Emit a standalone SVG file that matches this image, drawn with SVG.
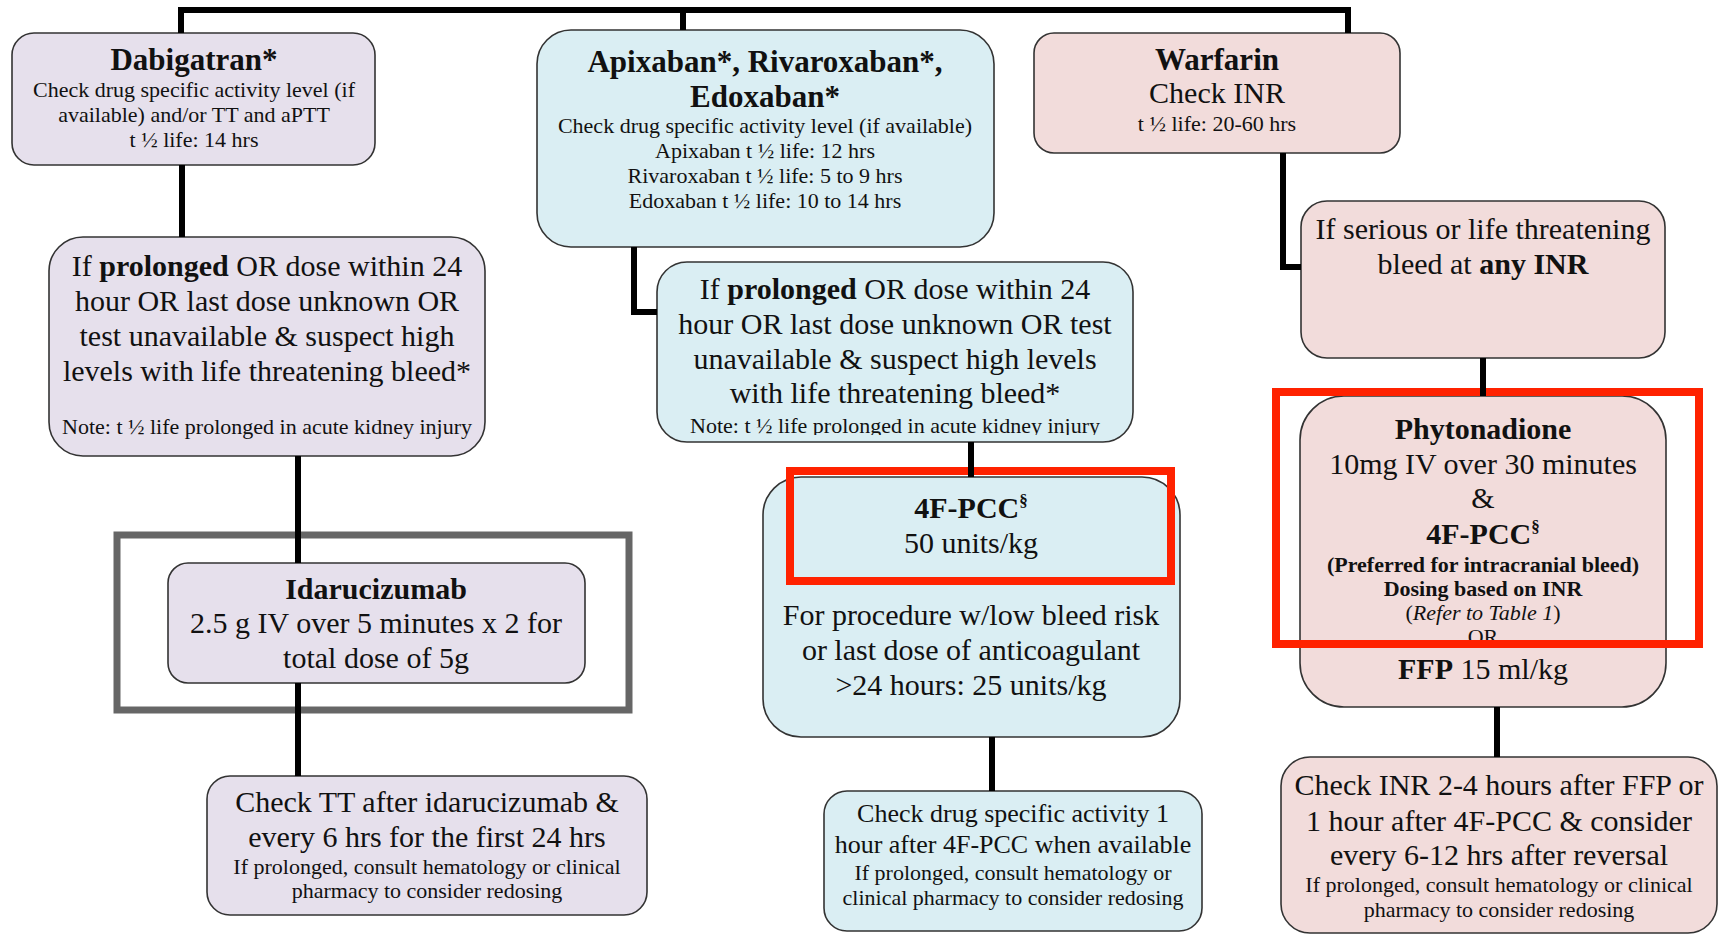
<svg xmlns="http://www.w3.org/2000/svg" width="1725" height="935" viewBox="0 0 1725 935">
<style>
text{font-family:"Liberation Serif","Times New Roman",serif;fill:#111;text-anchor:middle}
.t{font-size:31px;font-weight:bold}
.b{font-size:30px}
.m{font-size:26px}
.s{font-size:22px}
.bold{font-weight:bold}
.box{stroke:#333;stroke-width:1.6}
.pur{fill:#E6E0EC}
.blu{fill:#DAEEF3}
.pnk{fill:#F2DCDB}
.hl{fill:none;stroke:#FF2200;stroke-width:8}
.gr{fill:none;stroke:#666;stroke-width:7}
.cn{fill:none;stroke:#000;stroke-width:6}
</style>
<defs>
<clipPath id="clipMid"><rect x="600" y="250" width="600" height="185"/></clipPath>
</defs>
<rect width="1725" height="935" fill="#fff"/>

<g id="dabigatran">
<rect class="box pur" x="12" y="33" width="363" height="132" rx="22"/>
<text class="t" x="194" y="70">Dabigatran*</text>
<text class="s" x="194" y="97">Check drug specific activity level (if</text>
<text class="s" x="194" y="122">available) and/or TT and aPTT</text>
<text class="s" x="194" y="147">t ½ life: 14 hrs</text>
</g>

<g id="xa-inhibitors">
<rect class="box blu" x="537" y="30" width="457" height="217" rx="34"/>
<text class="t" x="765" y="72">Apixaban*, Rivaroxaban*,</text>
<text class="t" x="765" y="107">Edoxaban*</text>
<text class="s" x="765" y="133">Check drug specific activity level (if available)</text>
<text class="s" x="765" y="158">Apixaban t ½ life: 12 hrs</text>
<text class="s" x="765" y="183">Rivaroxaban t ½ life: 5 to 9 hrs</text>
<text class="s" x="765" y="208">Edoxaban t ½ life: 10 to 14 hrs</text>
</g>

<g id="warfarin">
<rect class="box pnk" x="1034" y="33" width="366" height="120" rx="20"/>
<text class="t" x="1217" y="70">Warfarin</text>
<text class="b" x="1217" y="103">Check INR</text>
<text class="s" x="1217" y="131">t ½ life: 20-60 hrs</text>
</g>

<g id="dabigatran-condition">
<rect class="box pur" x="49" y="237" width="436" height="219" rx="34"/>
<text class="b" x="267" y="276">If <tspan class="bold">prolonged</tspan> OR dose within 24</text>
<text class="b" x="267" y="311">hour OR last dose unknown OR</text>
<text class="b" x="267" y="346">test unavailable &amp; suspect high</text>
<text class="b" x="267" y="381">levels with life threatening bleed*</text>
<text class="s" x="267" y="434">Note: t ½ life prolonged in acute kidney injury</text>
</g>

<g id="xa-condition">
<rect class="box blu" x="657" y="262" width="476" height="180" rx="30"/>
<text class="b" x="895" y="299">If <tspan class="bold">prolonged</tspan> OR dose within 24</text>
<text class="b" x="895" y="334">hour OR last dose unknown OR test</text>
<text class="b" x="895" y="369">unavailable &amp; suspect high levels</text>
<text class="b" x="895" y="403">with life threatening bleed*</text>
<text class="s" x="895" y="433" clip-path="url(#clipMid)">Note: t ½ life prolonged in acute kidney injury</text>
</g>

<g id="warfarin-condition">
<rect class="box pnk" x="1301" y="201" width="364" height="157" rx="26"/>
<text class="b" x="1483" y="239">If serious or life threatening</text>
<text class="b" x="1483" y="274">bleed at <tspan class="bold">any INR</tspan></text>
</g>

<g id="idarucizumab">
<rect class="box pur" x="168" y="563" width="417" height="120" rx="20"/>
<text class="b bold" x="376" y="599">Idarucizumab</text>
<text class="b" x="376" y="633">2.5 g IV over 5 minutes x 2 for</text>
<text class="b" x="376" y="668">total dose of 5g</text>
</g>

<g id="pcc-xa">
<rect class="box blu" x="763" y="477" width="417" height="260" rx="38"/>
<text class="b bold" x="971" y="518">4F-PCC<tspan font-size="17" dy="-12">§</tspan></text>
<text class="b" x="971" y="553">50 units/kg</text>
<text class="b" x="971" y="625">For procedure w/low bleed risk</text>
<text class="b" x="971" y="660">or last dose of anticoagulant</text>
<text class="b" x="971" y="695">&gt;24 hours: 25 units/kg</text>
</g>

<g id="phytonadione">
<rect class="box pnk" x="1300" y="396" width="366" height="311" rx="44"/>
<text class="b bold" x="1483" y="439">Phytonadione</text>
<text class="b" x="1483" y="474">10mg IV over 30 minutes</text>
<text class="b" x="1483" y="508">&amp;</text>
<text class="b bold" x="1483" y="544">4F-PCC<tspan font-size="17" dy="-12">§</tspan></text>
<text class="s bold" x="1483" y="572">(Preferred for intracranial bleed)</text>
<text class="s bold" x="1483" y="596">Dosing based on INR</text>
<text class="s" x="1483" y="620">(<tspan font-style="italic">Refer to Table 1</tspan>)</text>
<text class="s" x="1483" y="644">OR</text>
<text class="b" x="1483" y="679"><tspan class="bold">FFP</tspan> 15 ml/kg</text>
</g>

<g id="check-tt">
<rect class="box pur" x="207" y="776" width="440" height="139" rx="23"/>
<text class="b" x="427" y="812">Check TT after idarucizumab &amp;</text>
<text class="b" x="427" y="847">every 6 hrs for the first 24 hrs</text>
<text class="s" x="427" y="874">If prolonged, consult hematology or clinical</text>
<text class="s" x="427" y="898">pharmacy to consider redosing</text>
</g>

<g id="check-activity">
<rect class="box blu" x="824" y="791" width="378" height="140" rx="23"/>
<text class="m" x="1013" y="822">Check drug specific activity 1</text>
<text class="m" x="1013" y="853">hour after 4F-PCC when available</text>
<text class="s" x="1013" y="880">If prolonged, consult hematology or</text>
<text class="s" x="1013" y="905">clinical pharmacy to consider redosing</text>
</g>

<g id="check-inr">
<rect class="box pnk" x="1281" y="757" width="436" height="176" rx="29"/>
<text class="b" x="1499" y="795">Check INR 2-4 hours after FFP or</text>
<text class="b" x="1499" y="831">1 hour after 4F-PCC &amp; consider</text>
<text class="b" x="1499" y="865">every 6-12 hrs after reversal</text>
<text class="s" x="1499" y="892">If prolonged, consult hematology or clinical</text>
<text class="s" x="1499" y="917">pharmacy to consider redosing</text>
</g>

<g id="highlights">
<rect class="gr" x="117" y="535" width="512" height="175"/>
<rect class="hl" x="790" y="471" width="381" height="110"/>
<rect class="hl" x="1276" y="392" width="423" height="252"/>
</g>

<g id="connectors">
<path class="cn" d="M181,33 V10 H1348 V33"/>
<path class="cn" d="M683,10 V30"/>
<path class="cn" d="M182,165 V237"/>
<path class="cn" d="M298,456 V563"/>
<path class="cn" d="M298,683 V776"/>
<path class="cn" d="M634,247 V312 H657"/>
<path class="cn" d="M971,442 V477"/>
<path class="cn" d="M992,737 V791"/>
<path class="cn" d="M1283,153 V267 H1301"/>
<path class="cn" d="M1483,358 V396"/>
<path class="cn" d="M1497,707 V757"/>
</g>
</svg>
